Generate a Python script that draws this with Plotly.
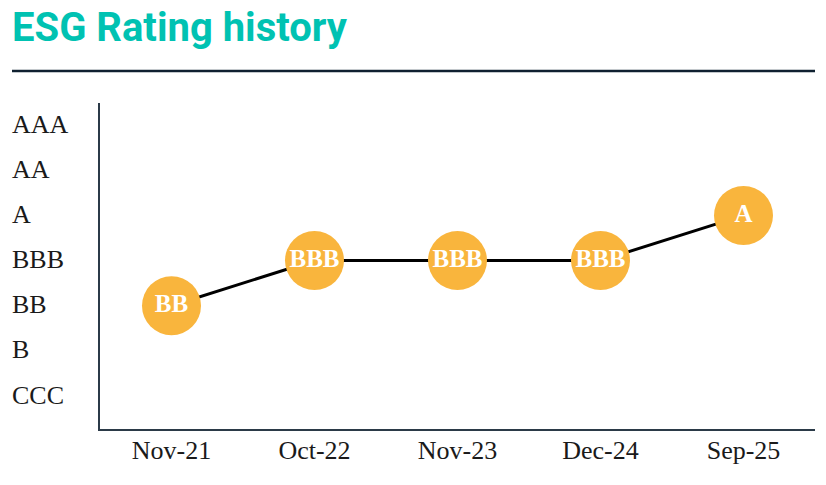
import plotly.graph_objects as go

# Data
dates = ["Nov-21", "Oct-22", "Nov-23", "Dec-24", "Sep-25"]
ratings = ["BB", "BBB", "BBB", "BBB", "A"]
scale = ["CCC", "B", "BB", "BBB", "A", "AA", "AAA"]

yvals = [scale.index(r) for r in ratings]

W, H = 826, 485
L, R, T, B = 100, 11, 103, 56
pw, ph = W - L - R, H - T - B

def px_x(px):
    return (px - L) / pw

def px_y(py):
    return (H - B - py) / ph

fig = go.Figure()
fig.add_trace(go.Scatter(
    x=dates, y=yvals,
    mode="lines+markers+text",
    line=dict(color="#000000", width=3),
    marker=dict(size=59, color="#F9B53D", line=dict(width=0)),
    text=[f"<b>{r}</b>" for r in ratings],
    textposition="middle center",
    textfont=dict(family="Liberation Serif", size=25, color="#FFFFFF"),
    hoverinfo="skip",
    cliponaxis=False,
))

annotations = []
for i, lab in enumerate(scale):
    annotations.append(dict(
        text=lab, xref="paper", yref="y", x=px_x(10), y=i, yshift=1,
        xanchor="left", yanchor="middle", showarrow=False,
        font=dict(family="Liberation Serif", size=26, color="#1a1a1a"),
    ))

fig.update_layout(
    width=W, height=H,
    margin=dict(l=L, r=R, t=T, b=B),
    paper_bgcolor="#FFFFFF", plot_bgcolor="#FFFFFF",
    showlegend=False,
    title=dict(
        text="<b>ESG Rating history</b>",
        x=12 / W, xanchor="left", xref="container",
        y=1 - 27 / H, yanchor="middle", yref="container",
        font=dict(family="Roboto", size=40, color="#00C2B2"),
    ),
    xaxis=dict(
        type="category", range=[-0.5, 4.5],
        showgrid=False, zeroline=False,
        showline=True, linecolor="#2b3a48", linewidth=1.5,
        ticks="", tickfont=dict(family="Liberation Serif", size=26, color="#1a1a1a"),
        ticklabelstandoff=-3,
    ),
    yaxis=dict(
        range=[-0.73, 6.49],
        showgrid=False, zeroline=False,
        showline=True, linecolor="#2b3a48", linewidth=1.5,
        showticklabels=False, ticks="",
    ),
    annotations=annotations,
    shapes=[dict(
        type="line", xref="paper", yref="paper",
        x0=px_x(12), x1=px_x(815), y0=px_y(71), y1=px_y(71),
        line=dict(color="#0f2030", width=2.5),
    )],
)

fig.write_html("out.html", post_script="document.body.style.margin='0';",
               config={"displayModeBar": False})
